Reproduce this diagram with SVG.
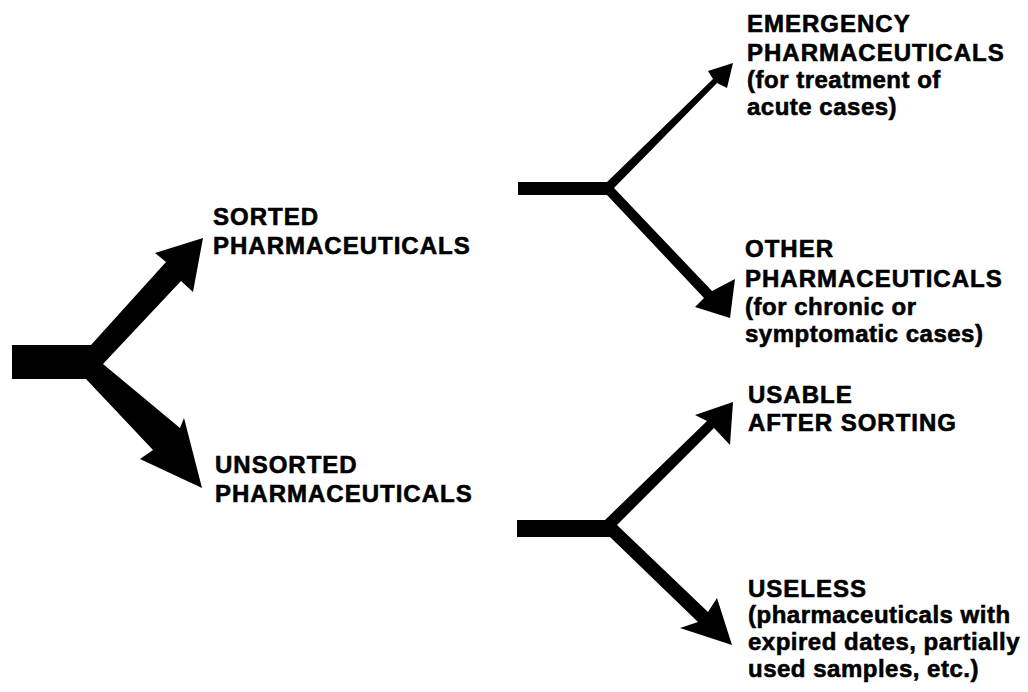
<svg xmlns="http://www.w3.org/2000/svg" width="1028" height="692" viewBox="0 0 1028 692">
<style>
.lbl{font-family:"Liberation Sans",Arial,Helvetica,sans-serif;font-weight:bold;font-size:24px;fill:#000;stroke:#000;stroke-width:0.6px;letter-spacing:1px}
.sub{letter-spacing:0.5px}
.arr{fill:#000;stroke:none}
</style>
<rect width="1028" height="692" fill="#fff"/>
<g id="connectors">
<polygon class="arr" points="12,345 91,345 166,262 155,253 203,238 193,292 181,281 103,364 180,428 184,418 202,488 140,459 153,450 86,379 12,379"/>
<polygon class="arr" points="518,182 607,182 713,79 708,71 733,63 727,88 717,83 614,188 712,291 735,279 730,318 695,307 704,298 607,195 518,195"/>
<polygon class="arr" points="517,520 605,520 707,421 695,415 733,402 730,445 714,428 617,525 708,612 717,598 732,645 680,628 698,622 610,537 517,537"/>
</g>
<g id="sorted"><text class="lbl" x="213" y="225">SORTED</text><text class="lbl" x="213" y="254">PHARMACEUTICALS</text></g>
<g id="unsorted"><text class="lbl" x="215" y="473">UNSORTED</text><text class="lbl" x="215" y="502">PHARMACEUTICALS</text></g>
<g id="emergency"><text class="lbl" x="747" y="32">EMERGENCY</text><text class="lbl" x="747" y="61">PHARMACEUTICALS</text><text class="lbl sub" x="747" y="88">(for treatment of</text><text class="lbl sub" x="747" y="115">acute cases)</text></g>
<g id="other"><text class="lbl" x="745" y="257">OTHER</text><text class="lbl" x="745" y="287">PHARMACEUTICALS</text><text class="lbl sub" x="745" y="315">(for chronic or</text><text class="lbl sub" x="745" y="342">symptomatic cases)</text></g>
<g id="usable"><text class="lbl" x="748" y="403">USABLE</text><text class="lbl" x="748" y="431">AFTER SORTING</text></g>
<g id="useless"><text class="lbl" x="748" y="597">USELESS</text><text class="lbl sub" x="748" y="623">(pharmaceuticals with</text><text class="lbl sub" x="748" y="650">expired dates, partially</text><text class="lbl sub" x="748" y="677">used samples, etc.)</text></g>
</svg>
